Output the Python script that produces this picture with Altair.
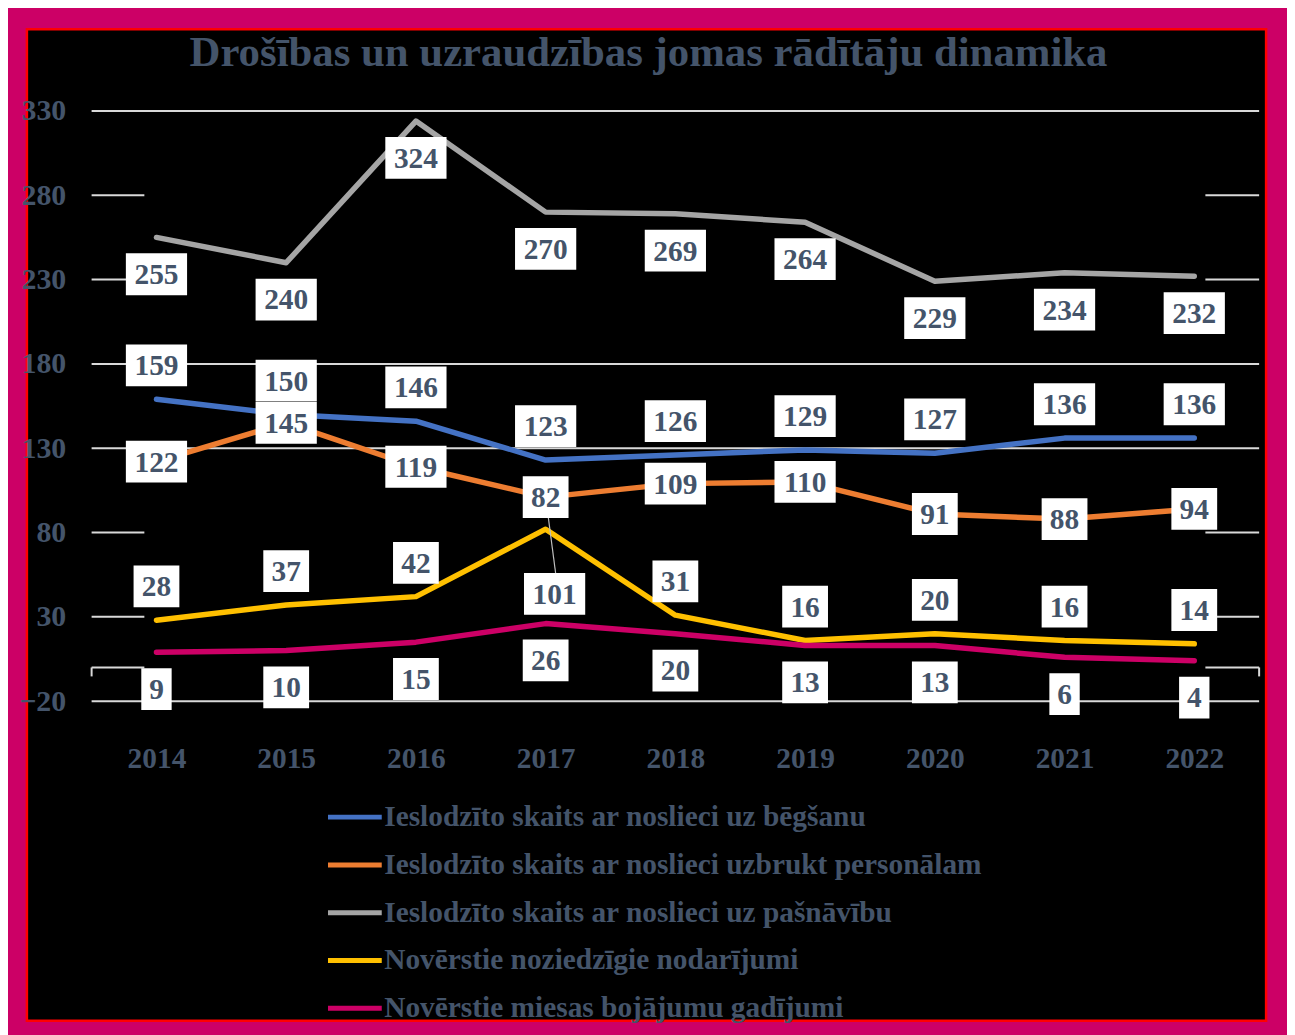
import altair as alt
import pandas as pd

# ---------------- data ----------------
years = [2014, 2015, 2016, 2017, 2018, 2019, 2020, 2021, 2022]
series_names = [
    "Ieslodzīto skaits ar noslieci uz bēgšanu",
    "Ieslodzīto skaits ar noslieci uzbrukt personālam",
    "Ieslodzīto skaits ar noslieci uz pašnāvību",
    "Novērstie noziedzīgie nodarījumi",
    "Novērstie miesas bojājumu gadījumi",
]
escape = [159, 150, 146, 123, 126, 129, 127, 136, 136]
assault = [122, 145, 119, 101, 109, 110, 91, 88, 94]
suicide = [255, 240, 324, 270, 269, 264, 229, 234, 232]
crimes = [28, 37, 42, 82, 31, 16, 20, 16, 14]
injuries = [9, 10, 15, 26, 20, 13, 13, 6, 4]
values = [escape, assault, suicide, crimes, injuries]

colors = ["#4472C4", "#ED7D31", "#A5A5A5", "#FFC000", "#CC0066"]
y_ticks = [-20, 30, 80, 130, 180, 230, 280, 330]
full_grid = [330, 180, 130, -20]
stub_grid = [280, 230, 80, 30]
title_text = "Drošības un uzraudzības jomas rādītāju dinamika"

# ---------------- layout / style ----------------
W, H = 1173, 593
YMIN, YMAX = -20, 330
XMIN, XMAX = 2013.5, 2022.5
PXY = W / (XMAX - XMIN)      # pixels per year
PXV = H / (YMAX - YMIN)      # pixels per unit
TXT = "#44546A"
FONT = "Liberation Serif"
GRID = "#D9D9D9"

# label placement per series (pixel offset downwards)
placement = {0: -34, 1: 0, 2: 37, 3: -34, 4: 37}

line_rows = []
label_rows = []
for i, (name, vals) in enumerate(zip(series_names, values)):
    for yr, v in zip(years, vals):
        line_rows.append({"series": name, "year": yr, "value": v})
        label_rows.append({"series": name, "year": yr, "anchor": v,
                           "text": str(v), "dy": placement[i], "dx": 0})
lines_df = pd.DataFrame(line_rows)
labels_df = pd.DataFrame(label_rows)
# 2017: labels of the two crossing series were moved in the original chart
i17 = years.index(2017)
m_cr = (labels_df.series == series_names[3]) & (labels_df.year == 2017)
m_as = (labels_df.series == series_names[1]) & (labels_df.year == 2017)
labels_df.loc[m_cr, ["anchor", "dy", "dx"]] = [assault[i17], 0, 0]
labels_df.loc[m_as, ["anchor", "dy", "dx"]] = [crimes[i17], 65, 9]
leader_df = pd.DataFrame({"year": [2017], "from": [assault[i17]], "to": [crimes[i17]]})

grid_rows = []
for g in full_grid:
    grid_rows.append({"v": g, "x1": XMIN, "x2": XMAX})
for g in stub_grid + [0]:
    grid_rows.append({"v": g, "x1": XMIN, "x2": XMIN + 53 / PXY})
    grid_rows.append({"v": g, "x1": XMAX - 54 / PXY, "x2": XMAX})
grid_df = pd.DataFrame(grid_rows)
tick_df = pd.DataFrame({"x": [XMIN, XMAX], "v": [0, 0]})

xs = alt.Scale(domain=[XMIN, XMAX], nice=False, zero=False)
ys = alt.Scale(domain=[YMIN, YMAX], nice=False, zero=False)

# background panel
panel = alt.Chart(pd.DataFrame({"a": [0]})).mark_rect(
    fill="black", stroke="#FF0000", strokeWidth=2.5
).encode(x=alt.value(-65), x2=alt.value(1180), y=alt.value(-82), y2=alt.value(914))

grid = alt.Chart(grid_df).mark_rule(color=GRID, strokeWidth=2).encode(
    x=alt.X("x1:Q", scale=xs,
            axis=alt.Axis(values=years, format="d", title=None, grid=False, ticks=False,
                          domain=False, labelFont=FONT, labelFontSize=29.5,
                          labelFontWeight="bold", labelColor=TXT, labelPadding=44,
                          zindex=1)),
    x2="x2:Q",
    y=alt.Y("v:Q", scale=ys,
            axis=alt.Axis(values=y_ticks, title=None, grid=False, ticks=False,
                          domain=False, labelFont=FONT, labelFontSize=30,
                          labelFontWeight="bold", labelColor=TXT, labelPadding=26,
                          zindex=1)),
)

ticks = alt.Chart(tick_df).transform_calculate(
    v2=f"datum.v - 9 / {PXV}"
).mark_rule(color=GRID, strokeWidth=2).encode(
    x="x:Q", y="v:Q", y2="v2:Q"
)

lines = alt.Chart(lines_df).mark_line(
    strokeWidth=5.5, strokeCap="round", strokeJoin="round"
).encode(
    x="year:Q",
    y="value:Q",
    color=alt.Color(
        "series:N",
        sort=series_names,
        scale=alt.Scale(domain=series_names, range=colors),
        legend=alt.Legend(
            orient="none", legendX=235, legendY=680, direction="vertical",
            title=None, labelFont=FONT, labelFontSize=29.5, labelFontWeight="bold",
            labelColor=TXT, labelLimit=1200, symbolType="stroke", symbolSize=2916,
            symbolStrokeWidth=5, labelOffset=0, rowPadding=4, zindex=1,
        ),
    ),
)

leader = alt.Chart(leader_df).transform_calculate(
    x2=f"datum.year + 10 / {PXY}",
    y2=f"datum.to - 44 / {PXV}",
).mark_rule(color="#BFBFBF", strokeWidth=1.2).encode(
    x="year:Q", y="from:Q", x2="x2:Q", y2="y2:Q"
)

lab = alt.Chart(labels_df).transform_calculate(
    cx=f"datum.year + datum.dx / {PXY}",
    cy=f"datum.anchor - datum.dy / {PXV}",
).transform_calculate(
    bx1=f"datum.cx - (length(datum.text) * 15.5 + 15) / 2 / {PXY}",
    bx2=f"datum.cx + (length(datum.text) * 15.5 + 15) / 2 / {PXY}",
    by1=f"datum.cy - 21 / {PXV}",
    by2=f"datum.cy + 21 / {PXV}",
)

boxes = lab.mark_rect(fill="white").encode(
    x="bx1:Q", x2="bx2:Q", y="by1:Q", y2="by2:Q"
)
texts = lab.mark_text(
    font=FONT, fontSize=29.5, fontWeight="bold", color=TXT,
    align="center", baseline="middle", dy=1
).encode(x="cx:Q", y="cy:Q", text="text:N")

chart = alt.layer(panel, grid, ticks, lines, leader, boxes, texts).properties(
    width=W, height=H,
    title=alt.TitleParams(
        text=title_text, font=FONT, fontSize=43, fontWeight="bold", color=TXT,
        anchor="middle", dx=-27, offset=-81, baseline="alphabetic", zindex=1,
    ),
    autosize=alt.AutoSizeParams(type="none"),
    padding={"left": 84, "top": 101, "right": 28, "bottom": 340},
).configure(
    background="#CC0066",
).configure_view(
    strokeWidth=0,
)

chart.save("out.html", embed_options={"renderer": "svg", "actions": False})
